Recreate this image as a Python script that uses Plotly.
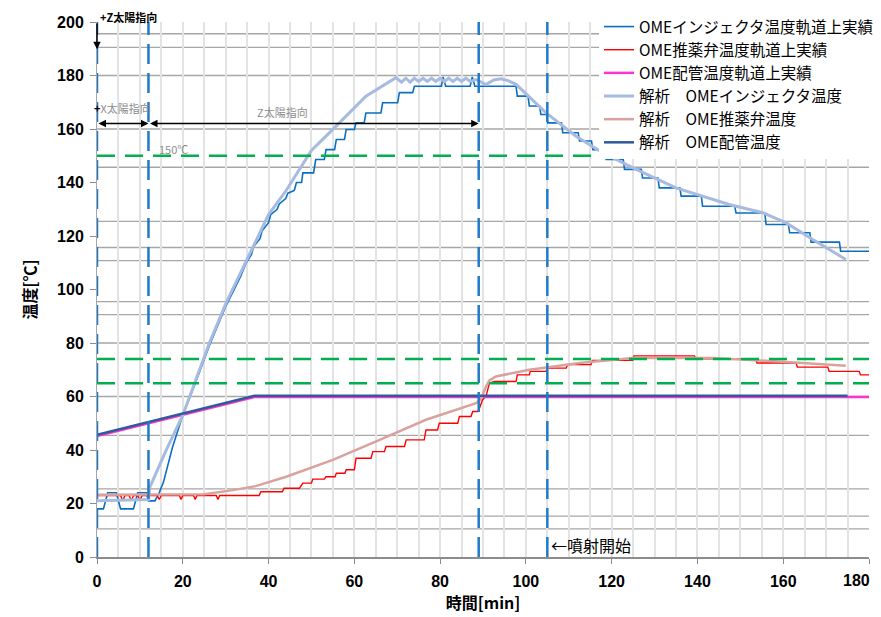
import plotly.graph_objects as go

# ---------------- data ----------------
inj_act_t = [0, 1.5, 2.5, 4.5, 5.5, 8.5, 9.5, 11.5, 12, 13.5, 14.5, 15.5, 17.6, 20, 22.7, 24.7, 26.2, 28, 30.1, 32, 33.5,
             34.8, 36, 36.5, 38, 38.5, 40, 40.5, 42, 42.5, 44, 44.5, 46, 46.5, 47.7, 48, 50.5, 51, 53, 53.4, 55.4, 55.8,
             57.7, 58.1, 60, 60.4, 62.3, 62.7, 66.2, 66.6, 70.1, 70.5, 73.6, 74, 80.3, 80.7, 81.3, 87, 87.5, 88.1, 97.7,
             98, 100.5, 100.8, 103.2, 103.5, 104.8, 105.1, 108.3, 108.6, 112.2, 112.5, 115.3, 115.6, 118.4, 118.7,
             122.7, 123, 126.9, 127.2, 130.8, 131.1, 135.9, 136.2, 140.9, 141.2, 148.7, 149, 155.7, 156, 161.2,
             161.5, 166.2, 166.5, 173.1, 173.4, 180]
inj_act_v = [18, 18, 24, 24, 18, 18, 24, 24, 21, 21, 24, 28, 41, 53, 64, 73, 79, 86, 94, 100, 105,
             110, 113, 116, 119, 122, 125, 128, 130, 132, 134, 136, 137, 140, 140, 143.6, 143.6, 148.6, 148.6, 152.3,
             152.3, 156.1, 156.1, 159.8, 159.8, 162.3, 162.3, 166, 166, 169.8, 169.8, 173.6, 173.6, 176, 176, 179.5,
             176, 176, 179.5, 176, 176, 172.3, 172.3, 168.6, 168.6, 165.4, 165.4, 162.3, 162.3, 158.6, 158.6,
             155.5, 155.5, 152.3, 152.3, 148.6, 148.6, 144.9, 144.9, 141.7, 141.7, 138, 138, 134.9, 134.9, 131.1,
             131.1, 128.6, 128.6, 124.3, 124.3, 121.2, 121.2, 117.7, 117.7, 114.3, 114.3]

valve_act_t = [0, 5.5, 6, 6.5, 7.5, 8, 8.5, 9.5, 10, 10.5, 14, 14.5, 15, 19.2, 19.6, 20, 22.5, 22.9, 23.3, 27.8,
               28.2, 28.6, 37.8, 38.2, 43.2, 43.6, 47.2, 48, 50, 50.3, 53, 53.4, 55.5, 55.8, 57.8, 58.1, 60, 60.4,
               63.9, 64.3, 67, 67.4, 71.7, 72.1, 76.3, 76.7, 79.4, 79.8, 84.1, 84.5, 87.2, 87.6, 88.8, 89.2, 89.9,
               90.7, 91.5, 92.7, 97.7, 98, 100.8, 101, 104.7, 105, 109.4, 109.7, 115.2, 115.5, 124.9, 125.2, 139.3,
               139.6, 153.6, 153.9, 163, 163.3, 170.4, 170.7, 177.7, 178, 180]
valve_act_v = [23, 23, 21, 23, 23, 21, 23, 23, 21, 23, 23, 21.5, 23, 23, 21.5, 23, 23, 21.5, 23, 23,
               21.5, 23, 23, 24.4, 24.4, 25.7, 25.7, 27.6, 27.6, 29.1, 29.1, 30, 30, 31.3, 31.3, 32.6, 32.6, 36.9,
               36.9, 39.4, 39.4, 41.3, 41.3, 43.8, 43.8, 47.5, 47.5, 50, 50, 52.5, 52.5, 54.4, 54.4, 55.7, 58.8,
               60, 65, 65.6, 65.6, 68.1, 68.1, 69.4, 69.4, 70.6, 70.6, 71.9, 71.9, 73.5, 73.5, 75.2, 75.2,
               74.1, 74.1, 72.5, 72.5, 71, 71, 69.4, 69.4, 68.1, 68.1]

pipe_act_t = [0, 36.7, 180]
pipe_act_v = [45.2, 59.8, 59.8]

inj_ana_t = [0, 12, 12.3, 16, 20, 22.7, 24.7, 26.2, 30.1, 34.8, 40, 44.1, 50, 55.4, 62.7, 69.7, 71, 72, 73, 74, 75,
             76, 77, 78, 79, 80, 81, 82, 83, 84, 85, 86, 87, 88.4, 90.7, 92.5, 94.2, 96, 97.7, 104.7, 111.7, 117.9,
             125.7, 135, 147.4, 155.2, 160.7, 166.9, 174.6]
inj_ana_v = [21, 21.5, 26, 39.5, 53, 65, 74, 80, 95, 110.5, 128, 137, 152, 160.5, 172.3, 179.2, 177.5, 179, 177.5,
             179, 177.8, 179, 177.8, 179, 177.8, 179, 177.8, 179, 177.8, 179, 177.8, 179, 177.8, 178.5, 176.6, 178.3,
             178.8, 178, 176.7, 166, 157.3, 151.1, 144.9, 138, 131.8, 128.7, 124.9, 118.7, 111.2]

valve_ana_t = [0, 25, 31.7, 37, 44.1, 55, 65.9, 76.7, 88.4, 89.5, 90.7, 91.5, 93, 100.8, 112.5, 124.9, 143.5, 159,
               174.6]
valve_ana_v = [23.3, 23.5, 25, 26.5, 30, 36.3, 43.8, 51.3, 57.5, 59, 63.7, 66, 67.5, 70, 72.5, 74.4, 74.4, 73.1,
               71.5]

pipe_ana_t = [0, 36.7, 175]
pipe_ana_v = [45.7, 60.3, 60.3]

series_names = [
    "OMEインジェクタ温度軌道上実績",
    "OME推薬弁温度軌道上実績",
    "OME配管温度軌道上実績",
    "解析\u3000OMEインジェクタ温度",
    "解析\u3000OME推薬弁温度",
    "解析\u3000OME配管温度",
]

event_times = [0, 12, 89, 105]          # vertical dashed lines [min]
limit_temps = [150, 74, 65]             # green dashed limits [℃]
grid_temps = [195.6, 190.5, 180, 160, 145.7, 125.5, 115.7, 110.8, 95.5, 90.6, 80, 60, 45.5, 25.5, 15.3, 10.5]

x_ticks = [0, 20, 40, 60, 80, 100, 120, 140, 160, 180]
x_tick_labels = ["0", "20", "40", "60", "80", "100", "120", "140", "160", ""]   # last one drawn below
x_last_label = "180"
y_ticks = [0, 20, 40, 60, 80, 100, 120, 140, 160, 180, 200]

# ---------------- figure ----------------
JP = "Noto Sans CJK JP"
TICKFONT = dict(family="Liberation Sans", size=16, color="black", weight="bold")
fig = go.Figure()

styles = [
    dict(color="#0A6FC2", width=1.6),
    dict(color="#FF0000", width=1.4),
    dict(color="#FF33CC", width=2.5),
    dict(color="#A7BADF", width=3),
    dict(color="#D9A29D", width=2.5),
    dict(color="#2F5B9C", width=2.5),
]
data = [
    (inj_act_t, inj_act_v),
    (valve_act_t, valve_act_v),
    (pipe_act_t, pipe_act_v),
    (inj_ana_t, inj_ana_v),
    (valve_ana_t, valve_ana_v),
    (pipe_ana_t, pipe_ana_v),
]
for name, (t, v), st in zip(series_names, data, styles):
    fig.add_trace(go.Scatter(x=t, y=v, mode="lines", name=name, line=st))

shapes = []
for g in grid_temps:
    shapes.append(dict(type="line", xref="x", yref="y", x0=0, x1=180, y0=g, y1=g,
                       line=dict(color="#A6A6A6", width=1.3), layer="below"))
for t in event_times:
    shapes.append(dict(type="line", xref="x", yref="y", x0=t, x1=t, y0=0, y1=200,
                       line=dict(color="#1F7BC8", width=2.5, dash="20px,9px"), layer="above"))
for g in limit_temps:
    shapes.append(dict(type="line", xref="x", yref="y", x0=0, x1=180, y0=g, y1=g,
                       line=dict(color="#00B050", width=2.5, dash="18px,10px"), layer="above"))

# paper coordinates helpers (plot area on screen: 97..869 px wide, 22..557 px tall)
def px_x(px):
    return (px - 97) / 772.0

def px_y(py):
    return (557 - py) / 535.0

annotations = [
    dict(x=px_x(98), y=px_y(16.5), xref="paper", yref="paper", text="<b>+Z太陽指向</b>", showarrow=False,
         xanchor="left", yanchor="middle", font=dict(family=JP, size=11, color="black")),
    dict(x=0, y=189.8, ax=0, ay=200, xref="x", yref="y", axref="x", ayref="y", text="",
         showarrow=True, arrowhead=2, arrowsize=1, arrowwidth=1.5, arrowcolor="black"),
    dict(x=px_x(92), y=px_y(108), xref="paper", yref="paper",
         text="<b>+</b><span style='color:#8C8C8C'>X太陽指向</span>", showarrow=False,
         xanchor="left", yanchor="middle", font=dict(family=JP, size=11, color="black")),
    dict(x=12, y=162.1, ax=0, ay=162.1, xref="x", yref="y", axref="x", ayref="y", text="",
         showarrow=True, arrowhead=2, arrowside="end+start", arrowsize=1, arrowwidth=1.5, arrowcolor="black"),
    dict(x=89, y=162.1, ax=12, ay=162.1, xref="x", yref="y", axref="x", ayref="y", text="",
         showarrow=True, arrowhead=2, arrowside="end+start", arrowsize=1, arrowwidth=1.5, arrowcolor="black"),
    dict(x=43.2, y=166.3, xref="x", yref="y", text="Z太陽指向", showarrow=False,
         xanchor="center", yanchor="middle", font=dict(family=JP, size=11, color="#8C8C8C")),
    dict(x=14.1, y=152.7, xref="x", yref="y", text="150℃", showarrow=False,
         xanchor="left", yanchor="middle", font=dict(family=JP, size=11, color="#8C8C8C")),
    dict(x=105.3, y=4.5, xref="x", yref="y", text="←噴射開始", showarrow=False,
         xanchor="left", yanchor="middle", font=dict(family=JP, size=16, color="black")),
    # last x tick label, kept inside the visible page edge
    dict(x=x_ticks[-1], y=px_y(580), xref="x", yref="paper", text=x_last_label, showarrow=False,
         xanchor="right", yanchor="middle", xshift=3, font=TICKFONT),
]

# the page body adds an 8 px offset; margins compensate so the plot area lands at 97..869 x 22..557
fig.update_layout(
    width=889, height=625,
    margin=dict(l=89, r=28, t=14, b=76, autoexpand=False),
    paper_bgcolor="white", plot_bgcolor="white",
    shapes=shapes, annotations=annotations,
    showlegend=True,
    legend=dict(x=px_x(599), y=px_y(10), xanchor="left", yanchor="top", bgcolor="white",
                font=dict(family=JP, size=15.5, color="black"), itemwidth=30, tracegroupgap=0),
    xaxis=dict(range=[0, 180], tickvals=x_ticks, ticktext=x_tick_labels, ticks="outside", ticklen=5,
               tickcolor="#8C8C8C",
               showline=True, linecolor="#8C8C8C", linewidth=2,
               showgrid=True, gridcolor="#E3E3E3", gridwidth=1.5,
               minor=dict(dtick=5, showgrid=True, gridcolor="#E3E3E3", gridwidth=1.5),
               tickfont=TICKFONT,
               ticklabelstandoff=4, ticklabeloverflow="allow",
               title=dict(text="時間[min]", font=dict(family=JP, size=16, color="black", weight="bold"),
                          standoff=9),
               zeroline=False),
    yaxis=dict(range=[0, 200], tickvals=y_ticks, ticks="outside", ticklen=6, tickcolor="#8C8C8C",
               showline=True, linecolor="#A6A6A6", linewidth=1,
               showgrid=False, zeroline=False,
               tickfont=TICKFONT,
               ticklabelstandoff=3,
               title=dict(text="温度[℃]", font=dict(family=JP, size=16, color="black", weight="bold"),
                          standoff=16)),
)

fig.write_html("out.html")
